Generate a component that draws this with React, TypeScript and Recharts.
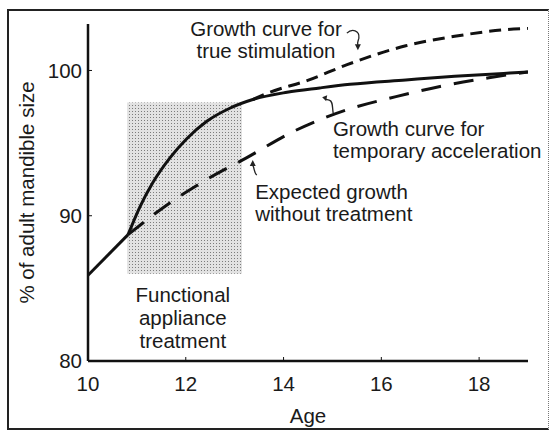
import React from 'react';
import { LineChart, Line, XAxis, YAxis, ReferenceArea, ReferenceDot } from 'recharts';

const FONT = '"Liberation Sans", Arial, sans-serif';
const INK = '#1a1a1a';

// axes
const ageTicks = [10, 12, 14, 16, 18];
const pctTicks = [80, 90, 100];

// before treatment (straight run-in)
const baseAges = [10, 10.82];
const baseVals = [85.9, 88.7];

// growth curve for temporary acceleration (solid)
const accelAges = [10.82, 11.06, 11.33, 11.68, 12.02, 12.43, 12.9, 13.37, 14.07, 14.74, 15.36, 16.5, 17.5, 18.5, 19];
const accelVals = [88.7, 90.6, 92.3, 94.0, 95.3, 96.5, 97.4, 98.0, 98.5, 98.8, 99.05, 99.35, 99.6, 99.8, 99.9];

// growth curve for true stimulation (short dashes)
const stimAges = [13.37, 13.72, 14.48, 15.3, 16.5, 17.5, 18.5, 19];
const stimVals = [98.0, 98.5, 99.3, 100.4, 101.7, 102.35, 102.8, 102.9];

// expected growth without treatment (long dashes)
const expAges = [10.82, 11.68, 12.43, 13.25, 14.2, 15.3, 16.3, 17.2, 18.2, 19];
const expVals = [88.7, 90.9, 92.5, 94.0, 95.8, 97.3, 98.2, 98.9, 99.5, 99.9];

// treatment window
const boxAges = [10.8, 13.15];
const boxVals = [86.0, 97.8];

const pts = (xs: number[], ys: number[]) => xs.map((x, i) => ({ age: x, pct: ys[i] }));

const Note = ({ cx, cy, lines, anchor = 'start', lh = 22 }: any) => (
  <text x={cx} y={cy} textAnchor={anchor} fontSize={20.5} fill={INK} fontFamily={FONT}>
    {lines.map((t: string, i: number) => (
      <tspan key={i} x={cx} dy={i === 0 ? '0.35em' : lh}>{t}</tspan>
    ))}
  </text>
);

const Arrow = ({ cx, cy, path, head }: any) => (
  <g transform={`translate(${cx},${cy})`}>
    <path d={path} fill="none" stroke="#222" strokeWidth={1.3} />
    <path d={head} fill="#222" />
  </g>
);

export default function App() {
  return (
    <div style={{ position: 'absolute', left: 0, top: 0, width: 550, height: 432, background: '#fff' }}>
      <div style={{ position: 'absolute', left: 7, top: 9, width: 539, height: 417, borderTop: '2px solid #222', borderLeft: '2px solid #222', borderBottom: '2px solid #222', borderRight: '1px dotted #777' }} />
      <LineChart width={550} height={432} margin={{ top: 24, right: 22, bottom: 0, left: 0 }} style={{ fontFamily: FONT, position: 'absolute', left: 0, top: 0 }}>
        <defs>
          <pattern id="stipple" width="3" height="3" patternUnits="userSpaceOnUse">
            <rect width="3" height="3" fill="#e2e2e2" />
            <rect width="1" height="1" fill="#7c7c7c" />
          </pattern>
        </defs>
        <XAxis dataKey="age" type="number" domain={[10, 19]} ticks={ageTicks} allowDataOverflow height={71}
          axisLine={{ stroke: '#111', strokeWidth: 2.5 }} tickLine={{ stroke: '#111' }} tickSize={-4} tickMargin={19}
          tick={{ fontSize: 20.5, fill: INK, fontFamily: FONT }}
          label={{ value: 'Age', position: 'insideBottom', offset: 9, fontSize: 20.5, fill: INK, fontFamily: FONT }} />
        <YAxis dataKey="pct" type="number" domain={[80, 103.2]} ticks={pctTicks} allowDataOverflow width={88}
          axisLine={{ stroke: '#111', strokeWidth: 2.5 }} tickLine={{ stroke: '#111' }} tickSize={-4} tickMargin={10}
          tick={{ fontSize: 20.5, fill: INK, fontFamily: FONT }}
          label={{ value: '% of adult mandible size', angle: -90, position: 'insideLeft', offset: 27, fontSize: 20.5, fill: INK, fontFamily: FONT, style: { textAnchor: 'middle' } }} />
        <ReferenceArea x1={boxAges[0]} x2={boxAges[1]} y1={boxVals[0]} y2={boxVals[1]} fill="url(#stipple)" fillOpacity={1} stroke="none" />

        <Line data={pts(baseAges, baseVals)} dataKey="pct" type="linear" stroke="#111" strokeWidth={3} dot={false} isAnimationActive={false} />
        <Line data={pts(accelAges, accelVals)} dataKey="pct" type="monotone" stroke="#111" strokeWidth={3} dot={false} isAnimationActive={false} />
        <Line data={pts(stimAges, stimVals)} dataKey="pct" type="monotone" stroke="#111" strokeWidth={3} strokeDasharray="12 7" dot={false} isAnimationActive={false} />
        <Line data={pts(expAges, expVals)} dataKey="pct" type="monotone" stroke="#111" strokeWidth={3} strokeDasharray="20 13" dot={false} isAnimationActive={false} />

        <ReferenceDot x={13.64} y={102.9} ifOverflow="visible" shape={(p: any) => <Note cx={p.cx} cy={p.cy} anchor="middle" lines={['Growth curve for', 'true stimulation']} />} />
        <ReferenceDot x={15.01} y={95.97} ifOverflow="visible" shape={(p: any) => <Note cx={p.cx} cy={p.cy} lines={['Growth curve for', 'temporary acceleration']} />} />
        <ReferenceDot x={13.42} y={91.63} ifOverflow="visible" shape={(p: any) => <Note cx={p.cx} cy={p.cy} lines={['Expected growth', 'without treatment']} />} />
        <ReferenceDot x={11.94} y={84.54} ifOverflow="visible" shape={(p: any) => <Note cx={p.cx} cy={p.cy} anchor="middle" lh={23} lines={['Functional', 'appliance', 'treatment']} />} />

        <ReferenceDot x={15.52} y={101.4} ifOverflow="visible" shape={(p: any) => <Arrow cx={p.cx} cy={p.cy} path="M -11 -17 C -6 -22, 2 -20, 1 -12 C 0 -8, -1 -7, 0 -5" head="M 0 0 L -3 -6 L 3 -6 Z" />} />
        <ReferenceDot x={14.79} y={98.3} ifOverflow="visible" shape={(p: any) => <Arrow cx={p.cx} cy={p.cy} path="M 11 18 C 10 12, 11 6, 7 5 L 3 4" head="M 0 2 L 5 0 L 4 6 Z" />} />
        <ReferenceDot x={13.37} y={93.83} ifOverflow="visible" shape={(p: any) => <Arrow cx={p.cx} cy={p.cy} path="M 4 15 C 1 12, 2 9, 0 5" head="M 0 0 L -3 6 L 3 6 Z" />} />
      </LineChart>
    </div>
  );
}
